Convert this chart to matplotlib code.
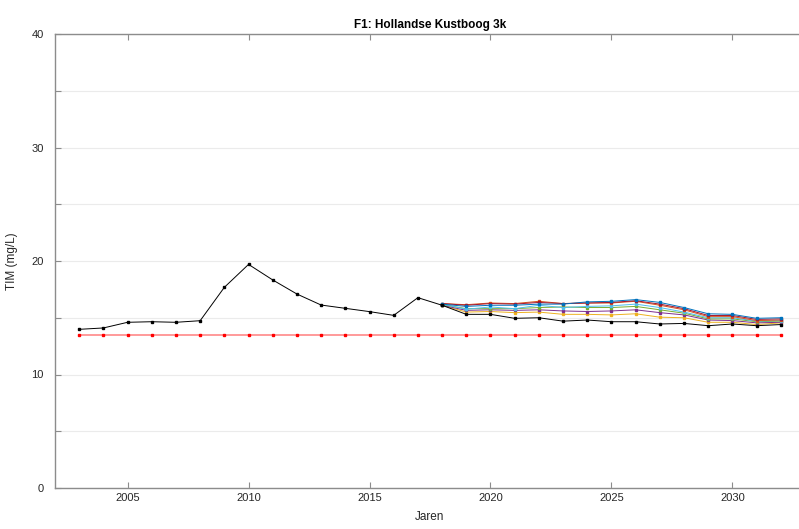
import matplotlib
matplotlib.use("Agg")
import matplotlib.pyplot as plt
import numpy as np

plt.rcParams['font.family'] = ['Liberation Sans', 'DejaVu Sans']

# historical measurements
hist_years = list(range(2003, 2019))
hist_tim = [13.98, 14.1, 14.6, 14.65, 14.6, 14.74, 17.68, 19.7, 18.33, 17.09,
            16.12, 15.83, 15.54, 15.21, 16.77, 16.1]

# target level
target_years = list(range(2003, 2033))
target_tim = [13.5] * len(target_years)

# scenario projections
scen_years = list(range(2018, 2033))
scen_blue = [16.2, 16.0, 16.1, 16.1, 16.2, 16.2, 16.4, 16.45, 16.6, 16.35, 15.9, 15.35, 15.3, 14.95, 15.0]
scen_orange = [16.25, 16.15, 16.3, 16.25, 16.45, 16.25, 16.3, 16.3, 16.45, 16.1, 15.7, 15.1, 15.1, 14.75, 14.8]
scen_darkred = [16.25, 16.1, 16.25, 16.2, 16.35, 16.25, 16.3, 16.35, 16.5, 16.2, 15.8, 15.2, 15.2, 14.85, 14.9]
scen_lightblue = [16.2, 15.75, 15.95, 15.8, 16.1, 15.9, 16.0, 16.05, 16.2, 15.9, 15.5, 15.0, 15.0, 14.7, 14.75]
scen_green = [16.15, 15.8, 15.8, 15.8, 15.9, 15.95, 15.9, 15.9, 16.0, 15.7, 15.4, 14.9, 14.9, 14.65, 14.7]
scen_purple = [16.1, 15.65, 15.7, 15.65, 15.7, 15.6, 15.55, 15.6, 15.7, 15.45, 15.25, 14.8, 14.75, 14.55, 14.6]
scen_yellow = [16.1, 15.5, 15.55, 15.45, 15.5, 15.3, 15.3, 15.25, 15.35, 15.05, 15.0, 14.6, 14.6, 14.4, 14.55]
scen_black = [16.1, 15.3, 15.3, 14.95, 15.0, 14.7, 14.8, 14.65, 14.65, 14.45, 14.5, 14.3, 14.45, 14.3, 14.4]

fig = plt.figure(figsize=(7.99, 5.29), dpi=100)
ax = fig.add_axes([55 / 799, 41 / 529, 750 / 799, 454 / 529])

mk = dict(marker='s', markersize=1.6, linewidth=0.7)

ax.plot(target_years, target_tim, color='#ff9a9a', linewidth=1.4, marker='s',
        markersize=1.8, markerfacecolor='red', markeredgecolor='red')

scenarios = [
    (scen_yellow, '#EDB120'),
    (scen_purple, '#7E2F8E'),
    (scen_green, '#77AC30'),
    (scen_lightblue, '#4DBEEE'),
    (scen_orange, '#D95319'),
    (scen_darkred, '#A2142F'),
    (scen_blue, '#0072BD'),
    (scen_black, 'black'),
]
for vals, col in scenarios:
    ax.plot(scen_years, vals, color=col, **mk)

ax.plot(hist_years, hist_tim, color='black', **mk)

ax.set_xlim(2002, 2033)
ax.set_ylim(0, 40)
ax.set_xticks([2005, 2010, 2015, 2020, 2025, 2030])
ax.set_yticks(np.arange(0, 41, 5))
ax.set_yticklabels(['0', '', '10', '', '20', '', '30', '', '40'])
ax.yaxis.grid(True, color='#ebebeb', linewidth=0.8)
ax.set_axisbelow(True)

ax.tick_params(direction='in', top=True, right=True, labelsize=8,
               colors='#262626', length=4, width=0.8)
ax.tick_params(axis='both', color='#8c8c8c')
ax.tick_params(axis='y', pad=8)
for s in ax.spines.values():
    s.set_color('#8c8c8c')
    s.set_linewidth(1.0)
ax.spines['right'].set_visible(False)

ax.set_title('F1: Hollandse Kustboog 3k', fontsize=8.5, fontweight='bold', pad=4)
ax.set_xlabel('Jaren', fontsize=8.5, color='#262626', labelpad=6)
ax.set_ylabel('TIM (mg/L)', fontsize=8.5, color='#262626', labelpad=10)

fig.savefig('out.png', dpi=100)
